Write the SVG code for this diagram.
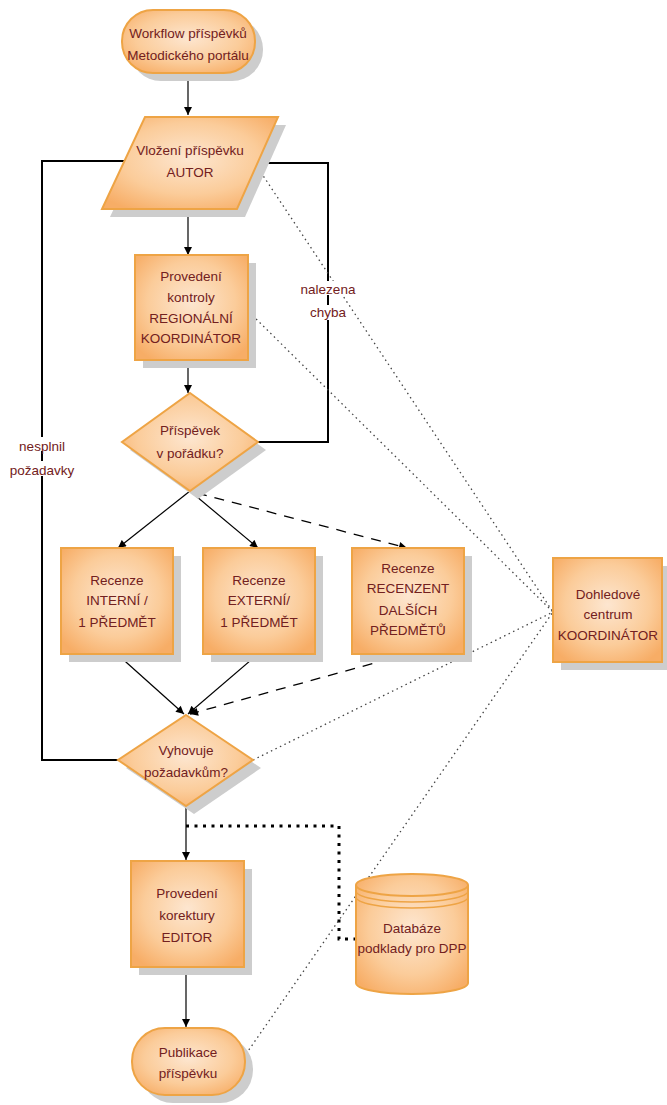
<svg xmlns="http://www.w3.org/2000/svg" width="667" height="1105" viewBox="0 0 667 1105">
<defs>
<radialGradient id="g" cx="50%" cy="45%" r="65%">
<stop offset="0" stop-color="#fde6d0"/>
<stop offset="0.6" stop-color="#fbcc9a"/>
<stop offset="1" stop-color="#f7ad66"/>
</radialGradient>
<marker id="ah" viewBox="0 0 10 10" refX="10" refY="5" markerWidth="9" markerHeight="8" markerUnits="userSpaceOnUse" orient="auto">
<path d="M0,0 L10,5 L0,10 z" fill="#000"/>
</marker>
</defs>
<style>
.n{fill:url(#g);stroke:#eea445;stroke-width:2}
.sh{fill:#cdcdcd}
.t{font-family:"Liberation Sans",Arial,sans-serif;font-size:13.5px;fill:#722020;text-anchor:middle}
.c{fill:none;stroke:#000;stroke-width:1.2}
.loop{fill:none;stroke:#000;stroke-width:2}
.dash{fill:none;stroke:#000;stroke-width:1.3;stroke-dasharray:10 8}
.dot{fill:none;stroke:#444;stroke-width:1.3;stroke-dasharray:1.5 3.5}
.hdot{fill:none;stroke:#000;stroke-width:3;stroke-dasharray:3 5.5}
.bg{fill:#fff}
</style>
<rect width="667" height="1105" fill="#fff"/>

<g id="connectors">
<path class="c" d="M188,73 V115" marker-end="url(#ah)"/>
<path class="c" d="M188,209 V255" marker-end="url(#ah)"/>
<path class="c" d="M188,360 V393" marker-end="url(#ah)"/>
<path class="c" d="M190,491 L118,548" marker-end="url(#ah)"/>
<path class="c" d="M190,491 L258,548" marker-end="url(#ah)"/>
<path class="dash" d="M197,493 L407,548" marker-end="url(#ah)"/>
<path class="c" d="M117,654 L184,714" marker-end="url(#ah)"/>
<path class="c" d="M258,654 L188,714" marker-end="url(#ah)"/>
<path class="dash" d="M407,654 L190,714" marker-end="url(#ah)"/>
<path class="c" d="M186,806 V860" marker-end="url(#ah)"/>
<path class="c" d="M186,967 V1027" marker-end="url(#ah)"/>
<path class="loop" d="M118,760 H42 V161 H127"/>
<path class="loop" d="M257,163 H328 V442 H258"/>
<path class="hdot" d="M186,826 H339 V939 H355"/>
<path class="dot" d="M258,168 L553,612"/>
<path class="dot" d="M249,312 L553,612"/>
<path class="dot" d="M253,760 L553,612"/>
<path class="dot" d="M246,1054 L553,612"/>
<rect class="bg" x="298" y="281" width="60" height="14"/>
<rect class="bg" x="309" y="305" width="38" height="15"/>
<text class="t" x="328" y="294">nalezena</text>
<text class="t" x="328" y="317">chyba</text>
<rect class="bg" x="14" y="437" width="56" height="14"/>
<rect class="bg" x="7" y="461" width="70" height="15"/>
<text class="t" x="42" y="451">nesplnil</text>
<text class="t" x="42" y="475">požadavky</text>
</g>

<g id="start">
<rect class="sh" x="130" y="18" width="133" height="63" rx="31"/>
<rect class="n" x="122" y="10" width="133" height="63" rx="31"/>
<text class="t" x="188" y="38">Workflow příspěvků</text>
<text class="t" x="188" y="60">Metodického portálu</text>
</g>

<g id="vlozeni">
<polygon class="sh" points="153,125 286,125 245,217 110,217"/>
<polygon class="n" points="145,117 278,117 237,209 102,209"/>
<text class="t" x="190" y="155">Vložení příspěvku</text>
<text class="t" x="190" y="177">AUTOR</text>
</g>

<g id="kontrola">
<rect class="sh" x="143" y="263" width="113" height="105"/>
<rect class="n" x="135" y="255" width="113" height="105"/>
<text class="t" x="191" y="281">Provedení</text>
<text class="t" x="191" y="302">kontroly</text>
<text class="t" x="191" y="323">REGIONÁLNÍ</text>
<text class="t" x="191" y="343">KOORDINÁTOR</text>
</g>

<g id="poradek">
<polygon class="sh" points="198,401 266,450 198,499 130,450"/>
<polygon class="n" points="190,393 258,442 190,491 122,442"/>
<text class="t" x="190" y="435">Příspěvek</text>
<text class="t" x="190" y="458">v pořádku?</text>
</g>

<g id="interni">
<rect class="sh" x="69" y="556" width="112" height="106"/>
<rect class="n" x="61" y="548" width="112" height="106"/>
<text class="t" x="117" y="585">Recenze</text>
<text class="t" x="117" y="605">INTERNÍ /</text>
<text class="t" x="117" y="627">1 PŘEDMĚT</text>
</g>

<g id="externi">
<rect class="sh" x="211" y="556" width="112" height="106"/>
<rect class="n" x="203" y="548" width="112" height="106"/>
<text class="t" x="259" y="585">Recenze</text>
<text class="t" x="259" y="605">EXTERNÍ/</text>
<text class="t" x="259" y="627">1 PŘEDMĚT</text>
</g>

<g id="dalsi">
<rect class="sh" x="360" y="556" width="112" height="106"/>
<rect class="n" x="352" y="548" width="112" height="106"/>
<text class="t" x="408" y="573">Recenze</text>
<text class="t" x="408" y="593">RECENZENT</text>
<text class="t" x="408" y="615">DALŠÍCH</text>
<text class="t" x="408" y="635">PŘEDMĚTŮ</text>
</g>

<g id="dohled">
<rect class="sh" x="561" y="566" width="109" height="104"/>
<rect class="n" x="553" y="558" width="109" height="104"/>
<text class="t" x="608" y="599">Dohledové</text>
<text class="t" x="608" y="619">centrum</text>
<text class="t" x="608" y="640">KOORDINÁTOR</text>
</g>

<g id="vyhovuje">
<polygon class="sh" points="194,723 261,768 194,814 126,768"/>
<polygon class="n" points="186,715 253,760 186,806 118,760"/>
<text class="t" x="186" y="755">Vyhovuje</text>
<text class="t" x="186" y="777">požadavkům?</text>
</g>

<g id="korektura">
<rect class="sh" x="139" y="869" width="113" height="106"/>
<rect class="n" x="131" y="861" width="113" height="106"/>
<text class="t" x="187" y="898">Provedení</text>
<text class="t" x="187" y="920">korektury</text>
<text class="t" x="187" y="942">EDITOR</text>
</g>

<g id="databaze">
<path class="n" d="M356,885 A56,11 0 0 1 468,885 V983 A56,11 0 0 1 356,983 Z"/>
<path fill="none" stroke="#eea445" stroke-width="2" d="M356,885 A56,11 0 0 0 468,885"/>
<path fill="none" stroke="#eea445" stroke-width="1.5" d="M356,891 A56,11 0 0 0 468,891"/>
<path fill="none" stroke="#eea445" stroke-width="1.5" d="M356,897 A56,11 0 0 0 468,897"/>
<text class="t" x="412" y="933">Databáze</text>
<text class="t" x="412" y="953">podklady pro DPP</text>
</g>

<g id="publikace">
<rect class="sh" x="140" y="1036" width="113" height="67" rx="33"/>
<rect class="n" x="132" y="1028" width="113" height="67" rx="33"/>
<text class="t" x="188" y="1057">Publikace</text>
<text class="t" x="188" y="1078">příspěvku</text>
</g>
</svg>
